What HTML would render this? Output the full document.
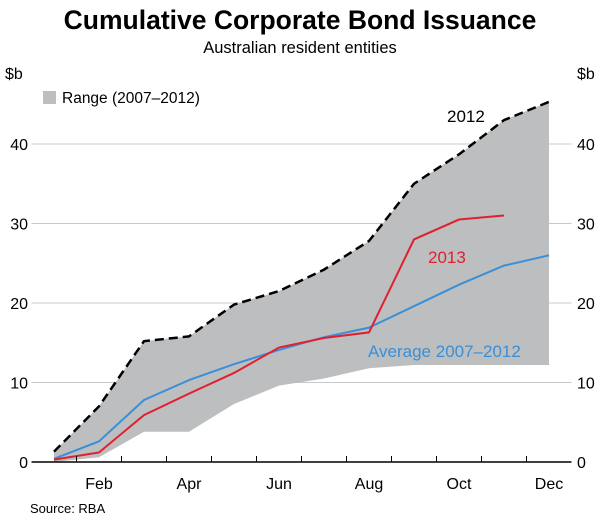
<!DOCTYPE html>
<html><head><meta charset="utf-8"><style>
body{margin:0;background:#fff;font-family:"Liberation Sans",sans-serif}
svg text{font-family:"Liberation Sans",sans-serif}
</style></head><body>
<svg width="600" height="517" viewBox="0 0 600 517">
<text x="300" y="29" text-anchor="middle" font-size="26.5" font-weight="bold" fill="#000">Cumulative Corporate Bond Issuance</text>
<text x="300" y="53" text-anchor="middle" font-size="16.5" fill="#000">Australian resident entities</text>
<text x="5" y="79" font-size="16">$b</text>
<text x="577" y="79" font-size="16">$b</text>
<g id="grid"></g>
<g id="marks"></g>
<rect x="43" y="91" width="13" height="13" fill="#bcbec0"/>
<text x="62" y="103" font-size="15.5">Range (2007–2012)</text>
<text x="447" y="122" font-size="17">2012</text>
<text x="428" y="263" font-size="17" fill="#e0202e">2013</text>
<text x="368" y="357" font-size="17" fill="#3a8fd6">Average 2007–2012</text>
<text x="30" y="513" font-size="13">Source: RBA</text>
</svg>
<script>
const months=["Jan","Feb","Mar","Apr","May","Jun","Jul","Aug","Sep","Oct","Nov","Dec"];
const xLabels=["Feb","Apr","Jun","Aug","Oct","Dec"];
const yTicks=[0,10,20,30,40];
const series2012=[1.3,7.0,15.2,15.8,19.8,21.5,24.2,27.8,35.0,38.7,43.0,45.3];
const rangeLow=[0,0.6,3.8,3.8,7.3,9.6,10.5,11.8,12.2,12.2,12.2,12.2];
const series2013=[0.3,1.2,5.9,8.6,11.2,14.4,15.6,16.3,28.0,30.5,31.0];
const seriesAvg=[0.4,2.6,7.8,10.3,12.3,14.1,15.7,16.9,19.6,22.3,24.7,26.0];
const NS="http://www.w3.org/2000/svg";
const L=31.5,R=571.5,B=462,T=62,mw=(R-L)/12;
const xs=i=>L+mw*(i+0.5);
const ys=v=>B-v*7.95;
function mk(tag,attrs,parent){const e=document.createElementNS(NS,tag);for(const k in attrs)e.setAttribute(k,attrs[k]);parent.appendChild(e);return e;}
const grid=document.getElementById('grid'),marks=document.getElementById('marks');
yTicks.forEach(v=>{
  if(v>0){const g=mk('line',{x1:L,x2:R,y1:ys(v),y2:ys(v),stroke:'#c8c8c8','stroke-width':1},grid);
  
  }
  const t1=mk('text',{x:28,y:ys(v)+6,'text-anchor':'end','font-size':16},grid);t1.textContent=v;
  
  
  const t2=mk('text',{x:577,y:ys(v)+6,'font-size':16},grid);t2.textContent=v;
  
  
});
let pts=series2012.map((v,i)=>xs(i)+','+ys(v)).concat(rangeLow.map((v,i)=>[i,v]).reverse().map(([i,v])=>xs(i)+','+ys(v)));
const area=mk('polygon',{points:pts.join(' '),fill:'#bcbec0'},marks);


function line(data,attrs,name){const p=mk('polyline',Object.assign({points:data.map((v,i)=>xs(i)+','+ys(v)).join(' '),fill:'none'},attrs),marks);

}
line(seriesAvg,{stroke:'#3a8fd6','stroke-width':2},'average-line');
line(series2013,{stroke:'#e0202e','stroke-width':2},'line-2013');
line(series2012,{stroke:'#000','stroke-width':2.5,'stroke-dasharray':'9,5'},'line-2012');
const ax=mk('line',{x1:L,x2:R,y1:B,y2:B,stroke:'#000','stroke-width':1.5},marks);


for(let i=1;i<12;i++){const tk=mk('line',{x1:L+mw*i,x2:L+mw*i,y1:B,y2:B-6,stroke:'#000','stroke-width':1},marks);

}
xLabels.forEach(m=>{const i=months.indexOf(m);const t=mk('text',{x:xs(i),y:489,'text-anchor':'middle','font-size':16},marks);t.textContent=m;

});
</script>
</body></html>
